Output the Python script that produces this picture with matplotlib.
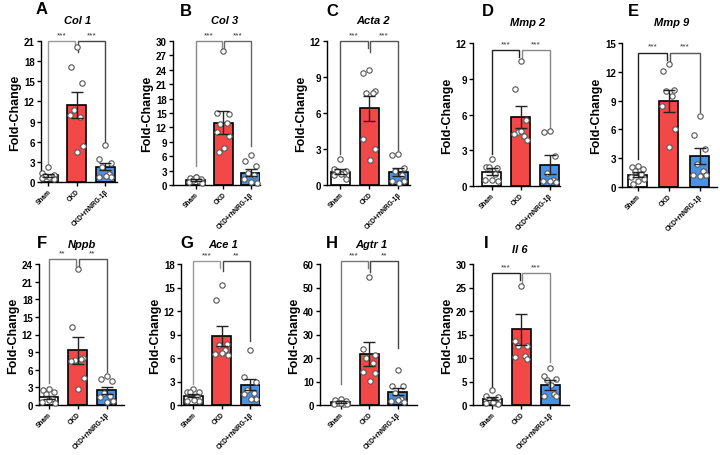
import matplotlib
matplotlib.use('Agg')
import matplotlib.pyplot as plt
import numpy as np

plt.rcParams['font.family'] = ['Liberation Sans', 'DejaVu Sans']

groups = ['Sham', 'CKD', 'CKD+rhNRG-1β']
genes = ['Col 1', 'Col 3', 'Acta 2', 'Mmp 2', 'Mmp 9', 'Nppb', 'Ace 1', 'Agtr 1', 'Il 6']
letters = ['A', 'B', 'C', 'D', 'E', 'F', 'G', 'H', 'I']
y_max = [21, 30, 12, 12, 15, 24, 18, 60, 30]
y_step = [3, 3, 3, 3, 3, 3, 3, 10, 5]

means_sham = [1.0, 1.0, 1.1, 1.2, 1.3, 1.3, 1.2, 1.2, 1.3]
means_ckd = [11.5, 13.0, 6.4, 5.8, 9.0, 9.3, 8.8, 21.8, 16.1]
means_rh = [2.3, 2.6, 1.1, 1.8, 3.2, 2.5, 2.6, 5.6, 4.3]
sem_sham = [0.2, 0.15, 0.2, 0.3, 0.25, 0.3, 0.2, 0.3, 0.3]
sem_ckd = [1.9, 2.4, 1.05, 0.95, 1.15, 2.3, 1.25, 5.0, 3.3]
sem_rh = [0.55, 0.8, 0.35, 0.8, 0.85, 0.6, 0.7, 1.5, 1.1]

pts_col1 = [[2.3, 1.4, 1.0, 0.9, 0.7, 0.6, 0.5, 0.8],
            [20.1, 17.1, 14.7, 10.7, 9.7, 10.0, 5.3, 4.4],
            [5.5, 3.5, 2.8, 2.2, 1.2, 0.8, 0.8, 0.9]]
pts_col3 = [[1.7, 1.5, 1.2, 1.0, 0.8, 0.6, 0.5, 1.6],
            [27.9, 14.9, 14.7, 12.8, 12.9, 11.1, 10.3, 7.7, 6.8],
            [6.2, 4.9, 4.0, 2.6, 2.0, 1.3, 0.5, 0.6]]
pts_acta2 = [[2.2, 1.3, 1.2, 1.2, 1.0, 0.8, 0.5, 0.9],
             [9.55, 9.3, 7.8, 7.7, 7.7, 3.8, 3.0, 2.1],
             [2.6, 2.5, 1.4, 1.2, 0.8, 0.3, 0.3, 0.2]]
pts_mmp2 = [[2.3, 1.6, 1.5, 1.6, 1.0, 0.5, 0.4, 0.5],
            [10.5, 8.1, 5.5, 4.5, 4.2, 4.4, 3.9, 4.6],
            [4.6, 4.5, 2.5, 1.1, 0.5, 0.4, 0.3, 0.4]]
pts_mmp9 = [[2.2, 2.1, 1.9, 1.7, 1.4, 1.0, 0.8, 0.6, 0.3],
            [12.8, 12.1, 10.1, 10.0, 9.5, 8.4, 6.0, 4.2],
            [7.4, 5.4, 4.0, 2.4, 1.7, 1.2, 1.2, 1.1]]
pts_nppb = [[2.7, 2.6, 2.2, 1.9, 1.0, 0.5, 0.4, 0.9],
            [23.2, 13.2, 8.0, 7.7, 7.9, 7.5, 4.6, 2.7],
            [5.0, 4.5, 4.1, 2.0, 1.5, 1.3, 0.7, 0.5]]
pts_ace1 = [[2.0, 1.6, 1.7, 1.6, 1.0, 0.5, 0.5, 0.6],
            [15.3, 13.4, 7.8, 7.7, 7.0, 6.5, 6.4, 6.6],
            [7.0, 3.6, 3.0, 1.9, 1.5, 1.4, 0.8, 0.8]]
pts_agtr1 = [[2.5, 2.0, 1.8, 1.0, 0.6, 0.5, 0.4, 0.7],
             [54.6, 23.8, 21.1, 20.0, 17.8, 14.0, 13.5, 10.3],
             [14.7, 8.0, 7.9, 5.2, 2.6, 1.7, 1.3, 2.1]]
pts_il6 = [[3.2, 2.0, 1.7, 1.1, 0.5, 0.4, 0.3, 0.6],
           [25.3, 13.6, 12.6, 12.6, 10.4, 10.3, 9.8],
           [7.9, 6.1, 5.5, 5.4, 2.4, 2.0, 1.9, 4.2]]
points = [pts_col1, pts_col3, pts_acta2, pts_mmp2, pts_mmp9,
          pts_nppb, pts_ace1, pts_agtr1, pts_il6]

sig_left = ['***', '***', '***', '***', '***', '**', '***', '***', '***']
sig_right = ['***', '***', '***', '***', '***', '**', '**', '**', '***']

# ---- layout (pixels) ----
W, H = 720, 456
# left, right, first bar centre, spacing, y0 px, ytop px
geom = [(41, 117, 48, 28.5, 183, 42),
        (173, 260, 195.5, 27.5, 186, 42),
        (327, 410, 340, 29, 186, 42),
        (473, 560, 491.5, 29, 187, 44),
        (622, 717, 637.5, 31, 188, 44),
        (39, 124, 48.5, 29, 406, 265),
        (181, 260, 193, 28.5, 406, 265),
        (320, 417, 340.5, 28.5, 406, 265),
        (473, 569, 492, 29, 406, 265)]
letter_pos = [(42, 10), (186, 12), (332, 12), (488, 12), (633, 12),
              (42, 243), (187, 243), (332, 243), (486, 243)]
title_pos = [(78, 21), (225, 21), (373, 21), (528, 23), (672, 23),
             (82, 245), (223, 245), (371, 245), (520, 250)]
br_y = [21, 30, 12, 11.4, 14.0, 24.9, 18.4, 61.3, 28.0]
br_left = [2.6, 4.0, 2.6, 2.7, 2.9, 3.8, 2.7, 8.9, 3.9]
br_right = [5.8, 8.2, 2.9, 4.9, 7.8, 5.7, 8.2, 24.4, 9.1]
br_col = [('#999999', '#444444'), ('#888888', '#666666'), ('#555555', '#555555'),
          ('#222222', '#888888'), ('#222222', '#555555'), ('#777777', '#555555'),
          ('#999999', '#444444'), ('#777777', '#444444'), ('#222222', '#888888')]

bar_colors = ['white', '#F34848', '#4A92E6']
jit = [0.0, -0.2, 0.2, -0.1, 0.12, -0.22, 0.22, 0.02, -0.14, 0.15]

fig = plt.figure(figsize=(W / 100, H / 100), dpi=100)

for k in range(9):
    L, R, c0, s, y0, yt = geom[k]
    ax = fig.add_axes([L / W, 1 - y0 / H, (R - L) / W, (y0 - yt) / H])
    ax.set_xlim((L - c0) / s, (R - c0) / s)
    ax.set_ylim(0, y_max[k])
    bw = 19.0 / s
    m = [means_sham[k], means_ckd[k], means_rh[k]]
    e = [sem_sham[k], sem_ckd[k], sem_rh[k]]
    x = np.arange(3)
    ax.bar(x, m, width=bw, color=bar_colors, edgecolor='black', linewidth=1.2, zorder=2)
    for i in range(3):
        vals = points[k][i]
        xs = [i + jit[j % len(jit)] * bw / 0.65 for j in range(len(vals))]
        ax.scatter(xs, vals, s=15, facecolor='white', edgecolor='#555555',
                   linewidth=0.8, zorder=3, clip_on=False)
    ax.errorbar(x, m, yerr=e, fmt='none', ecolor='#222222', elinewidth=1.0,
                capsize=4, capthick=1.0, zorder=4)
    for sp in ['top', 'right']:
        ax.spines[sp].set_visible(False)
    for sp in ['left', 'bottom']:
        ax.spines[sp].set_linewidth(1.0)
    ax.set_yticks(np.arange(0, y_max[k] + 0.01, y_step[k]))
    ax.tick_params(axis='y', labelsize=7, length=3, width=1.0, pad=1.5)
    ax.tick_params(axis='x', labelsize=4.7, length=3, width=1.0, pad=1.0)
    for lab in ax.get_yticklabels():
        lab.set_fontweight('bold')
    ax.set_xticks(x)
    ax.set_xticklabels(groups, rotation=45, ha='right', rotation_mode='anchor',
                       fontweight='bold')
    ax.set_ylabel('Fold-Change', fontsize=9, fontweight='bold', labelpad=2)

    # significance brackets
    yb = br_y[k]
    tick = 0.05 * y_max[k]
    g = 0.05
    cl, cr = br_col[k]
    ax.plot([0, 0, 1 - g, 1 - g], [br_left[k], yb, yb, yb - tick], color=cl,
            lw=1.0, clip_on=False, zorder=1, solid_joinstyle='miter')
    ax.plot([1 + g, 1 + g, 2, 2], [yb - tick * 1.5, yb, yb, br_right[k]], color=cr,
            lw=1.0, clip_on=False, zorder=1, solid_joinstyle='miter')
    ax.text(0.48, yb + 0.02 * y_max[k], sig_left[k], ha='center', va='bottom',
            fontsize=6, color='#333333')
    ax.text(1.52, yb + 0.02 * y_max[k], sig_right[k], ha='center', va='bottom',
            fontsize=6, color='#333333')

    lx, ly = letter_pos[k]
    fig.text(lx / W, 1 - ly / H, letters[k], fontsize=12, fontweight='bold',
             ha='center', va='center')
    tx, ty = title_pos[k]
    fig.text(tx / W, 1 - ty / H, genes[k], fontsize=8, fontweight='bold',
             fontstyle='italic', ha='center', va='center')

fig.savefig('out.png', dpi=100)
